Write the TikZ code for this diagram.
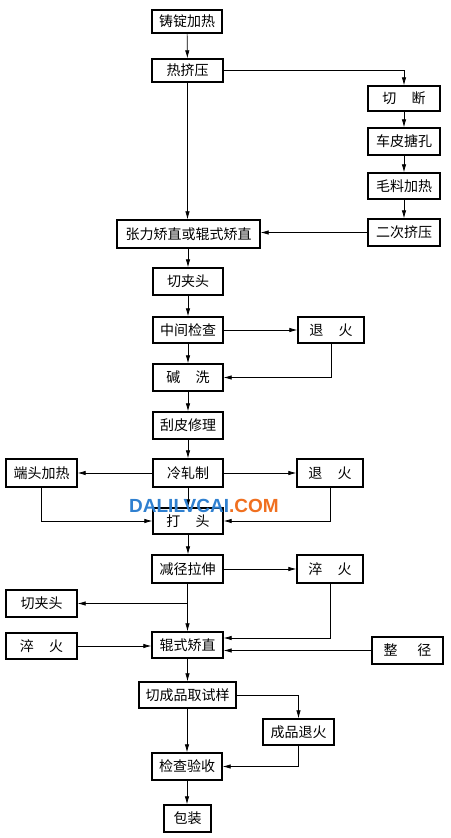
\documentclass[tikz,border=0pt]{standalone}
\usepackage{fontspec}
\newfontfamily\cjk{Noto Sans CJK SC}
\newfontfamily\wmfont{Liberation Sans}
\usetikzlibrary{arrows.meta,calc}
\tikzset{
  box/.style={draw, line width=1.3pt, inner sep=0pt, minimum width=70pt, minimum height=26pt,
    font=\cjk\fontsize{14}{14}\selectfont, fill=white},
  conn/.style={line width=0.7pt, -{Latex[length=8pt,width=4.4pt]}},
}
\newcommand{\gp}{\hspace{1.1em}}
\begin{document}
\begin{tikzpicture}[x=1pt,y=-1pt]
\useasboundingbox (0,0) rectangle (450,838);
\fill[white] (0,0) rectangle (450,838);
% main column
\node[box, minimum height=23pt] (n1) at (187,21.5) {铸锭加热};
\node[box, minimum width=71pt, minimum height=23pt] (n2) at (187.5,70.5) {热挤压};
\node[box, minimum width=72pt, minimum height=25pt] (r1) at (404,98.5) {切\gp 断};
\node[box, minimum width=72pt, minimum height=27pt] (r2) at (404,141.5) {车皮搪孔};
\node[box, minimum width=72pt] (r3) at (404,186) {毛料加热};
\node[box, minimum width=72pt, minimum height=27pt] (r4) at (404,232.5) {二次挤压};
\node[box, minimum width=143pt, minimum height=28pt] (n3) at (188.5,234) {张力矫直或辊式矫直};
\node[box, minimum height=27pt] (n4) at (188,281.5) {切夹头};
\node[box] (n5) at (188,330) {中间检查};
\node[box, minimum width=66pt] (a1) at (331,330) {退\gp 火};
\node[box, minimum height=27pt] (n6) at (188,377.5) {碱\gp 洗};
\node[box, minimum height=27pt] (n7) at (188,425.5) {刮皮修理};
\node[box, minimum height=28pt] (n8) at (188,473) {冷轧制};
\node[box, minimum width=71pt, minimum height=28pt] (l1) at (41.5,473) {端头加热};
\node[box, minimum width=66pt, minimum height=28pt] (a2) at (330,473) {退\gp 火};
\node[box] (n9) at (188,521) {打\gp 头};
\node[box, minimum width=71pt, minimum height=28pt] (n10) at (187.5,569) {减径拉伸};
\node[box, minimum width=66pt, minimum height=28pt] (q1) at (330,569) {淬\gp 火};
\node[box, minimum width=71pt, minimum height=27pt] (l2) at (41.5,603.5) {切夹头};
\node[box, minimum width=71pt] (l3) at (41.5,646) {淬\gp 火};
\node[box, minimum width=71pt] (n11) at (187.5,645) {辊式矫直};
\node[box, minimum width=71pt, minimum height=27pt] (z) at (407.5,650.5) {整\hspace{1.4em}径};
\node[box, minimum width=97pt] (n12) at (187.5,695) {切成品取试样};
\node[box, minimum width=71pt] (p) at (298.5,732) {成品退火};
\node[box, minimum height=27pt] (n13) at (187,766.5) {检查验收};
\node[box, minimum width=47pt, minimum height=27pt] (n14) at (187.5,818.5) {包装};
% connectors
\draw[conn] (n1) -- (n2);
\draw[conn] (n2.east) -| (r1.north);
\draw[conn] (r1) -- (r2);
\draw[conn] (r2) -- (r3);
\draw[conn] (r3) -- (r4);
\draw[conn] (n2.south) -- (n2.south |- n3.north);
\draw[conn] (r4.west) -- (r4.west -| n3.east);
\draw[conn] (n3.south -| n4.north) -- (n4.north);
\draw[conn] (n4) -- (n5);
\draw[conn] (n5) -- (n6);
\draw[conn] (n6) -- (n7);
\draw[conn] (n7) -- (n8);
\draw[conn] (n8) -- (n9);
\draw[conn] (n9) -- (n9.south |- n10.north);
\draw[conn] (n5.east) -- (a1.west);
\draw[conn] (a1.south) |- (n6.east);
\draw[conn] (n8.west) -- (l1.east);
\draw[conn] (n8.east) -- (a2.west);
\draw[conn] (l1.south) |- (n9.west);
\draw[conn] (a2.south) |- (n9.east);
\draw[conn] (n10.east) -- (q1.west);
\draw[conn] (n10.south) -- (n11.north);
\coordinate (br) at (n10.south |- l2.east);
\draw[conn] (br) -- (l2.east);
\draw[conn] (q1.south) |- ([yshift=7pt]n11.east);
\draw[conn] (z.west) -- (z.west -| n11.east);
\draw[conn] (l3.east) -- (l3.east -| n11.west);
\draw[conn] (n11) -- (n12);
\draw[conn] (n12.east) -| (p.north);
\draw[conn] (n12.south -| n13.north) -- (n13.north);
\draw[conn] (p.south) |- (n13.east);
\draw[conn] (n13) -- (n13.south |- n14.north);
% watermark
\node[anchor=base west, inner sep=0pt, font=\wmfont\bfseries\fontsize{19}{19}\selectfont] (wm) at (129,512)
  {\textcolor[HTML]{2F80D0}{DALILVCAI}\textcolor[HTML]{F07020}{.COM}};
\end{tikzpicture}
\end{document}
